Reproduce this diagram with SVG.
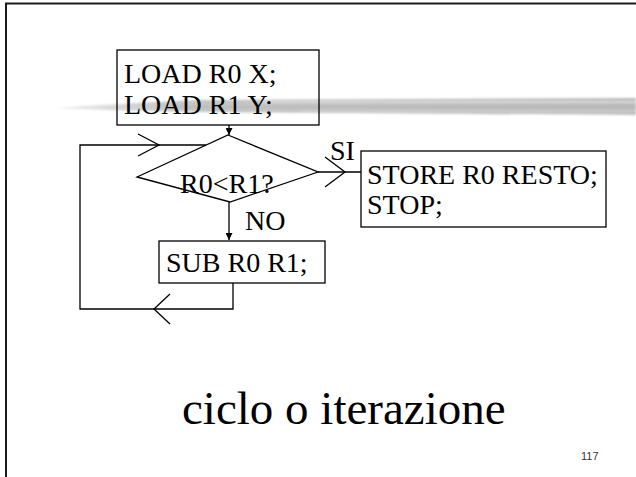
<svg xmlns="http://www.w3.org/2000/svg" width="636" height="477" viewBox="0 0 636 477">
<style>
.t{font-family:"Liberation Serif","Times New Roman",serif;font-size:28px;fill:#000}
.box{fill:none;stroke:#000;stroke-width:1.3}
.ln{fill:none;stroke:#000;stroke-width:1.3}
</style>
<defs>
<linearGradient id="band" x1="0" y1="0" x2="1" y2="0">
<stop offset="0" stop-color="#ececec"/>
<stop offset="0.2" stop-color="#c6c6c6"/>
<stop offset="1" stop-color="#bcbcbc"/>
</linearGradient>
<filter id="blur" x="-5%" y="-50%" width="110%" height="200%"><feGaussianBlur stdDeviation="1.2"/></filter>
<marker id="fa" viewBox="0 0 10 10" refX="10" refY="5" markerWidth="7" markerHeight="7" markerUnits="userSpaceOnUse" orient="auto"><path d="M0,0 L10,5 L0,10 Z" fill="#000"/></marker>
</defs>
<path d="M6,477 V3.5 H636" fill="none" stroke="#1a1a1a" stroke-width="2"/>
<g id="band-deco" filter="url(#blur)">
<path d="M55,108 C100,105 150,102 200,100 L636,98 L636,115 C500,114 300,113 200,112 C150,111 100,110 55,108 Z" fill="url(#band)"/>
<path d="M260,102 H636" stroke="#dadada" stroke-width="2"/>
<path d="M170,107 H636" stroke="#afafaf" stroke-width="1.2"/>
<path d="M300,111 H636" stroke="#d2d2d2" stroke-width="1.5"/>
</g>
<g id="load">
<rect class="box" x="117" y="50" width="202" height="75"/>
<text class="t" x="124" y="83">LOAD R0 X;</text>
<text class="t" x="124" y="114">LOAD R1 Y;</text>
</g>
<g id="cond">
<path class="ln" d="M228,135 L318,172 L230,202 L137,177 Z"/>
<text class="t" x="180" y="193">R0&lt;R1?</text>
</g>
<g id="store">
<rect class="box" x="361" y="151" width="245" height="76"/>
<text class="t" x="367" y="184">STORE R0 RESTO;</text>
<text class="t" x="367" y="214">STOP;</text>
</g>
<g id="sub">
<rect class="box" x="159" y="241" width="166" height="42"/>
<text class="t" x="166" y="272">SUB R0 R1;</text>
</g>
<g id="connectors">
<path class="ln" d="M229,125 V135" marker-end="url(#fa)"/>
<path class="ln" d="M229,202 V240" marker-end="url(#fa)"/>
<text class="t" x="245" y="230">NO</text>
<path class="ln" d="M318,172 H361"/>
<path class="ln" d="M325,157 L345,172 L325,187"/>
<text class="t" x="330" y="160">SI</text>
<path class="ln" d="M233,283 V309 H80 V145 H206"/>
<path class="ln" d="M138,134 L159,145 L138,156"/>
<path class="ln" d="M170,294 L154,309 L170,324"/>
</g>
<text x="182" y="424" font-family="'Liberation Serif','Times New Roman',serif" font-size="47" fill="#000">ciclo o iterazione</text>
<text x="581" y="460" font-family="'Liberation Sans',Arial,sans-serif" font-size="11" fill="#333">117</text>
</svg>
